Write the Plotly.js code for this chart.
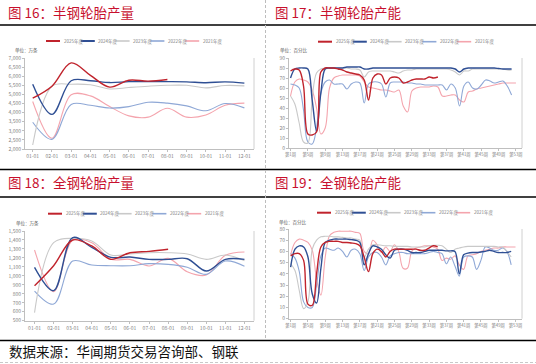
<!DOCTYPE html>
<html><head><meta charset="utf-8">
<script src="https://cdn.plot.ly/plotly-3.0.1.min.js"></script>
<style>html,body{margin:0;padding:0;background:#fff;}#chart{width:536px;height:364px;}</style>
</head><body><div id="chart"></div>
<script>
// ---------- categories ----------
const months = ['01-01','02-01','03-01','04-01','05-01','06-01','07-01','08-01','09-01','10-01','11-01','12-01'];
const weeks = [1,2,3,4,5,6,7,8,9,10,11,12,13,14,15,16,17,18,19,20,21,22,23,24,25,26,27,28,29,30,31,32,33,34,35,36,37,38,39,40,41,42,43,44,45,46,47,48,49,50,51,52,53];
const weekTickVals = [1,5,9,13,17,21,25,29,33,37,41,45,49,53];
const weekTickText = ['第1周','第5周','第9周','第13周','第17周','第21周','第25周','第29周','第33周','第37周','第41周','第45周','第49周','第53周'];
const seriesNames = ['2025年度','2024年度','2023年度','2022年度','2021年度'];

// ---------- 图16 半钢轮胎产量 (万条) ----------
const semiOut2025 = [4790,5450,6730,6050,5400,5780,5730,5820];
const semiOut2024 = [5560,3900,5750,5750,5650,5700,5700,5700,5690,5640,5690,5620];
const semiOut2023 = [2220,5450,5560,5530,5300,5380,5450,5500,5500,5360,5490,5470];
const semiOut2022 = [3470,2530,4450,4400,4250,4330,4570,4520,4370,4100,4500,4260];
const semiOut2021 = [4610,2590,4980,4920,4330,3820,3750,4240,3750,3870,4400,4520];

// ---------- 图17 半钢轮胎产能 (百分比) ----------
const semiCap2025 = [77,79,78,62,14,13,16,76,80,80, 80,79,78,76,75,74,73,68,48,70, 74,73,64,70,71,70,65,66,68,69, 69,69,71,70,71];
const semiCap2024 = [70,79,80,80,79,48,17,55,79,80, 80,80,80,81,81,81,81,79,79,80, 80,80,80,80,80,80,80,80,80,80, 80,80,80,80,80,80,80,80,79,76, 79,80,80,80,80,80,80,80,79.5,79,79,79];
const semiCap2023 = [52,44,25,6,5,50,75,79,80,80, 80,80,80,80,79,79,78,71,76,77, 77,77,77,77,76,75,77,78,78,79, 79,79,79,79,79,79,79,78,76,73, 77,77,79,79,79,79,79,79,79,79,78,78];
const semiCap2022 = [64,63,60,38,6,4,20,55,66,68, 64,64,64,59,64,66,65,45,64,66, 66,64,51,65,66,66,66,65,65,64, 64,63,63,63,63,63,58,64,60,42, 62,66,60,59,63,68,67,65,66,67,62,53];
const semiCap2021 = [52,66,69,68,66,58,40,14,20,60, 70,72,73,73,73,73,72,66,61,60, 59,58,58,57,56,58,42,36,57,60, 61,61,61,62,61,52,52,53,53,48, 46,56,57,59,60,61,62,63,64,65,65,65,65];

// ---------- 图18 全钢轮胎产量 (万条) ----------
const allOut2025 = [890,1113,1400,1333,1184,1258,1273,1296];
const allOut2024 = [1095,835,1426,1318,1206,1210,1184,1184,1191,1054,1184,1184];
const allOut2023 = [590,1370,1418,1388,1232,1243,1258,1258,1243,1184,1232,1169];
const allOut2022 = [831,686,1165,1121,1113,1113,1136,1128,1095,1017,1165,1106];
const allOut2021 = [1288,823,1400,1370,1184,1184,1110,1195,1046,1009,1229,1266];

// ---------- 图19 全钢轮胎产能 (百分比) ----------
const allCap2025 = [56,58,58,52,13,12,40,64,68,69, 69,69,68,68,67.5,67,65,55,42,58, 62,60,55,60,62,62,62,62,62,62, 61,61,63,65,64];
const allCap2024 = [46,62,65,64,55,22,14,45,68,70, 71,71,71,71,70.5,70,68,48,58,65, 64,62,57,54,61,62,62,61,59,59, 59,60,61,61,61,61,60.5,60.5,60,40, 57,58.5,59,59,59.5,60,61,60,59,59,59,60];
const allCap2023 = [49,43,25,9,15,62,70,73,73.5,73.5, 73,73,72.5,72,72,71,70,55,62,66, 66,65.5,65,65,64.5,64.5,64.5,64.5,64,64, 64,64,65,65.5,65.5,65,62,59,62,63, 64,64.5,64.5,64.5,64.5,64.5,64.5,64.5,64,64,60,55];
const allCap2022 = [58,54,42,15,10,10,30,56,63,62, 61,63,60,55,61,62,58,43,55,59, 59,55,48,56,58,59,59,58,58,58, 58,58,59,60,59,58,49,55,47,38, 55,56,55,44,52,64,63,61,61,63,60,48];
const allCap2021 = [57,68,71,70,68,61,35,21,55,74, 77,78,78,78,78,77,76,60,58,70, 66,59,64,60,66,60,45,45,60,63, 64,65,65,64,62,52,54,53,56,48, 44,56,57,58,60,61,62,63,63,64,64,64,64];

// ---------- styles ----------
const colors = ['#C0232C','#2F4F94','#C9C9C9','#8FA8D6','#F4A4AD'];
const widths = [1.4,1.4,1.1,1.1,1.1];

const W = 536, H = 364;
const fx = p => p / W, fy = p => 1 - p / H;

const panels = [
  {xa:'x',  ya:'y',  xs: months, data:[semiOut2025,semiOut2024,semiOut2023,semiOut2022,semiOut2021]},
  {xa:'x2', ya:'y2', xs: weeks,  data:[semiCap2025,semiCap2024,semiCap2023,semiCap2022,semiCap2021]},
  {xa:'x3', ya:'y3', xs: months, data:[allOut2025,allOut2024,allOut2023,allOut2022,allOut2021]},
  {xa:'x4', ya:'y4', xs: weeks,  data:[allCap2025,allCap2024,allCap2023,allCap2022,allCap2021]}
];

const traces = [];
panels.forEach(p => {
  for (let i = p.data.length - 1; i >= 0; i--) {
    const vals = p.data[i];
    traces.push({
      type:'scatter', mode:'lines', name: seriesNames[i],
      x: p.xs.slice(0, vals.length), y: vals, xaxis: p.xa, yaxis: p.ya,
      line:{color: colors[i], width: widths[i], shape:'spline', smoothing: 1},
      hoverinfo:'skip', showlegend:false
    });
  }
});

const tickFont = {family:'Noto Sans CJK SC, Noto Sans, sans-serif', size:5, color:'#7F7F7F'};
const weekFont = {family:'Noto Sans CJK SC, Noto Sans, sans-serif', size:4.3, color:'#7F7F7F'};
const axisBase = {showline:true, linecolor:'#BFBFBF', linewidth:1, ticks:'outside', ticklen:2,
  tickcolor:'#BFBFBF', showgrid:false, zeroline:false, tickfont:tickFont, fixedrange:true, tickangle:0};

const layout = {
  width: W, height: H, margin:{l:0,r:0,t:0,b:0}, paper_bgcolor:'#fff', plot_bgcolor:'#fff',
  showlegend:false, font:{family:'Noto Sans CJK SC, Noto Sans, sans-serif'},
  xaxis: Object.assign({}, axisBase, {domain:[fx(25), fx(254)], anchor:'y', type:'category', range:[-0.4, 11.5]}),
  yaxis: Object.assign({}, axisBase, {domain:[fy(149), fy(58)], anchor:'x', range:[2000, 7000], dtick:500, tickformat:','}),
  xaxis2: Object.assign({}, axisBase, {domain:[fx(289), fx(522)], anchor:'y2', range:[0.65, 54.4], tickvals:weekTickVals, ticktext:weekTickText, tickfont:weekFont}),
  yaxis2: Object.assign({}, axisBase, {domain:[fy(148), fy(58)], anchor:'x2', range:[0, 90], dtick:10}),
  xaxis3: Object.assign({}, axisBase, {domain:[fx(25), fx(254)], anchor:'y3', type:'category', range:[-0.5, 11.5]}),
  yaxis3: Object.assign({}, axisBase, {domain:[fy(320.7), fy(231)], anchor:'x3', range:[500, 1500], dtick:100, tickformat:','}),
  xaxis4: Object.assign({}, axisBase, {domain:[fx(289), fx(522)], anchor:'y4', range:[0.62, 54.5], tickvals:weekTickVals, ticktext:weekTickText, tickfont:weekFont}),
  yaxis4: Object.assign({}, axisBase, {domain:[fy(318.7), fy(229)], anchor:'x4', range:[0, 80], dtick:10}),
  shapes: [], annotations: []
};

// frame lines
[25, 169.5, 197, 340.5].forEach(y => layout.shapes.push({type:'line', xref:'paper', yref:'paper',
  x0:0, x1:1, y0:fy(y), y1:fy(y), line:{color:'#000', width:1.3}}));
layout.shapes.push({type:'line', xref:'paper', yref:'paper', x0:fx(265.5), x1:fx(265.5), y0:fy(0), y1:fy(339),
  line:{color:'#BDBDBD', width:1, dash:'3px,2px'}});
layout.shapes.push({type:'line', xref:'paper', yref:'paper', x0:0, x1:1, y0:fy(362.5), y1:fy(362.5),
  line:{color:'#C8C8C8', width:1, dash:'3px,2px'}});
// right border of each plot area
[['x','y'],['x2','y2'],['x3','y3'],['x4','y4']].forEach(([xa,ya]) => layout.shapes.push({type:'line',
  xref: xa + ' domain', yref: ya + ' domain', x0:1, x1:1, y0:0, y1:1, line:{color:'#D0D0D0', width:1}}));

// titles
const titleFont = {family:'Noto Sans CJK SC, sans-serif', size:13.5, color:'#C8102E'};
[['图 16：半钢轮胎产量', 7, 0.5], ['图 17：半钢轮胎产能', 274, 0.5], ['图 18：全钢轮胎产量', 7, 170.5], ['图 19：全钢轮胎产能', 274, 170.5]]
  .forEach(([t, x, y]) => layout.annotations.push({text:t, xref:'paper', yref:'paper', x:fx(x), y:fy(y),
    xanchor:'left', yanchor:'top', borderpad:0, showarrow:false, font:titleFont}));

// unit labels
const unitFont = {family:'Noto Sans CJK SC, sans-serif', size:4.5, color:'#595959'};
[['单位：万条', 13, 51], ['单位：百分比', 278, 51], ['单位：万条', 14, 223], ['单位：百分比', 277, 222]]
  .forEach(([t, x, y]) => layout.annotations.push({text:t, xref:'paper', yref:'paper', x:fx(x), y:fy(y),
    xanchor:'left', yanchor:'middle', showarrow:false, font:unitFont}));

// legends (one per panel)
const legFont = {family:'Noto Sans CJK SC, sans-serif', size:4.5, color:'#7F7F7F'};
[[46, 41], [318, 41.7], [48, 213.7], [317, 212.7]].forEach(([x0, y]) => {
  seriesNames.forEach((n, i) => {
    const xs = x0 + i * 34.8;
    layout.shapes.push({type:'line', xref:'paper', yref:'paper', x0:fx(xs), x1:fx(xs + 14), y0:fy(y), y1:fy(y),
      line:{color:colors[i], width: i < 2 ? 2 : 1.6}});
    layout.annotations.push({text:n, xref:'paper', yref:'paper', x:fx(xs + 15.5), y:fy(y),
      xanchor:'left', yanchor:'middle', showarrow:false, font:legFont});
  });
});

// source
layout.annotations.push({text:'数据来源：华闻期货交易咨询部、钢联', xref:'paper', yref:'paper', x:fx(7), y:fy(351),
  xanchor:'left', yanchor:'middle', showarrow:false, font:{family:'Noto Sans CJK SC, sans-serif', size:13.5, color:'#111'}});

Plotly.newPlot('chart', traces, layout, {staticPlot:true, displayModeBar:false});
</script>
</body></html>
